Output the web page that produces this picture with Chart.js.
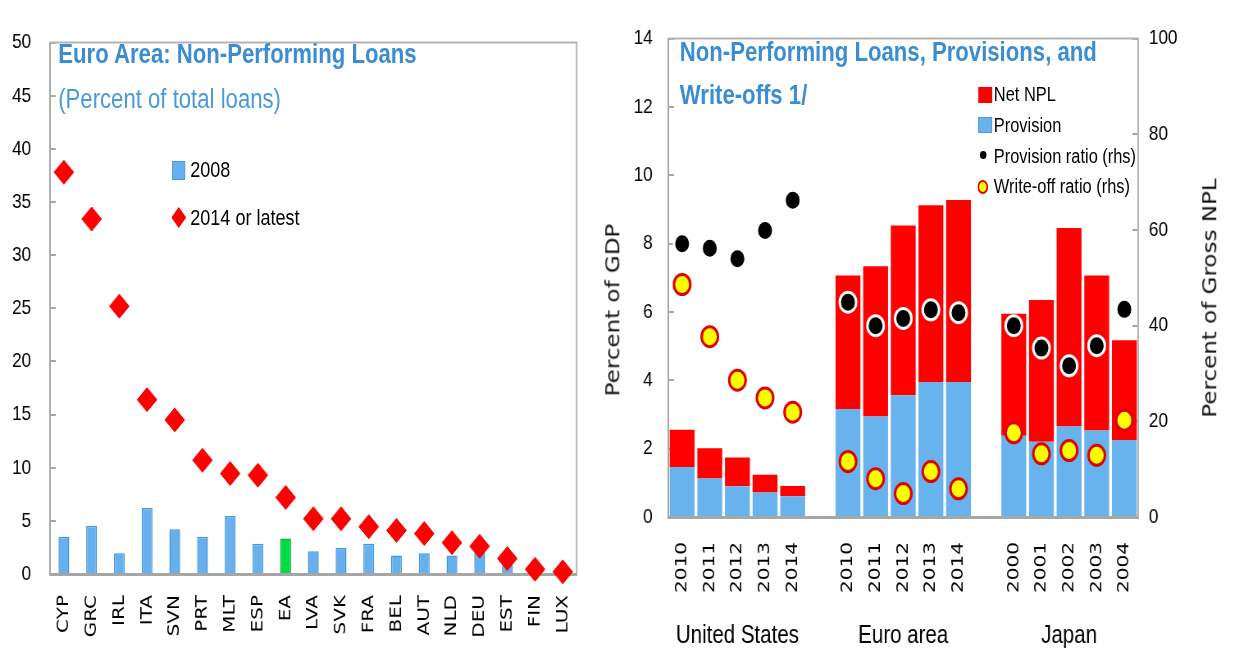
<!DOCTYPE html>
<html>
<head>
<meta charset="utf-8">
<title>Non-Performing Loans</title>
<script src="https://cdn.jsdelivr.net/npm/chart.js@4.4.1/dist/chart.umd.min.js"></script>
<style>
  html, body { margin: 0; padding: 0; background: #fff; overflow: hidden; }
  /* the source picture is squeezed sideways, so the page is laid out wider and squeezed too */
  #stage { position: absolute; left: 0; top: 0; width: 1506px; height: 657px; transform: scaleX(0.82); transform-origin: 0 0; }
  canvas { position: absolute; top: 0; }
  #c1 { left: 0; }
  #c2 { left: 732px; }
  .txt { position: absolute; white-space: nowrap; font-family: "Liberation Sans", Arial, sans-serif; line-height: 1; }
  .ttl { font-weight: bold; font-size: 27px; color: #3A8DD2; }
  .sub { font-size: 27px; color: #4A9AD8; }
  .axt { font-family: "DejaVu Sans", sans-serif; font-size: 23px; color: #111; transform: translate(-50%, -50%) rotate(-90deg); }
  .lg { font-size: 20px; color: #000; }
  .lg2 { font-size: 22px; color: #000; }
  .sw { position: absolute; }
</style>
</head>
<body>
<div id="stage">
  <canvas id="c1" width="732" height="657"></canvas>
  <canvas id="c2" width="774" height="657"></canvas>

  <div class="txt ttl" style="left:71px; top:41px;">Euro Area: Non-Performing Loans</div>
  <div class="txt sub" style="left:71px; top:86px;">(Percent of total loans)</div>

  <div class="sw" style="left:210px; top:161px; width:16px; height:19px; background:#66B0EE; box-shadow: inset 0 0 0 1px #4797DD;"></div>
  <div class="txt lg2" style="left:232px; top:159px;">2008</div>
  <div class="sw" style="left:209px; top:207px; width:18px; height:21px; background:#FF0000; clip-path: polygon(50% 0, 100% 50%, 50% 100%, 0 50%);"></div>
  <div class="txt lg2" style="left:232px; top:207px;">2014 or latest</div>

  <div class="txt ttl" style="left:829px; top:39px;">Non-Performing Loans, Provisions, and</div>
  <div class="txt ttl" style="left:829px; top:82px;">Write-offs 1/</div>

  <div class="sw" style="left:1193px; top:87px; width:17px; height:16px; background:#FF0000;"></div>
  <div class="txt lg" style="left:1212px; top:84px;">Net NPL</div>
  <div class="sw" style="left:1193px; top:117px; width:17px; height:16px; background:#68B2EE; box-shadow: inset 0 0 0 1px #4A9ADD;"></div>
  <div class="txt lg" style="left:1212px; top:115px;">Provision</div>
  <div class="sw" style="left:1195px; top:151px; width:8px; height:8px; border-radius:50%; background:#000;"></div>
  <div class="txt lg" style="left:1212px; top:146px;">Provision ratio (rhs)</div>
  <div class="sw" style="left:1192px; top:180px; width:9px; height:10px; border-radius:50%; background:#FFFF00; border:2.5px solid #E00000;"></div>
  <div class="txt lg" style="left:1212px; top:176px;">Write-off ratio (rhs)</div>

  <div class="txt axt" style="left:748px; top:310px;">Percent of GDP</div>
  <div class="txt axt" style="left:1476px; top:298px;">Percent of Gross NPL</div>
</div>

<script>
// left panel: NPL in percent of total loans
const countries = ['CYP', 'GRC', 'IRL', 'ITA', 'SVN', 'PRT', 'MLT', 'ESP', 'EA', 'LVA',
  'SVK', 'FRA', 'BEL', 'AUT', 'NLD', 'DEU', 'EST', 'FIN', 'LUX'];
const npl2008 = [3.5, 4.55, 1.95, 6.2, 4.2, 3.5, 5.45, 2.85, 3.35, 2.15,
  2.45, 2.85, 1.75, 1.95, 1.75, 2.2, 0.9, 0.4, 0.2];
const nplLatest = [37.8, 33.4, 25.2, 16.4, 14.5, 10.7, 9.45, 9.3, 7.2, 5.2,
  5.2, 4.45, 4.1, 3.8, 2.95, 2.6, 1.45, 0.45, 0.2];
const loanTicks = [0, 5, 10, 15, 20, 25, 30, 35, 40, 45, 50];

// right panel: NPL, provisions and write-offs (blank slots split the groups)
const years = ['2010', '2011', '2012', '2013', '2014', '',
  '2010', '2011', '2012', '2013', '2014', '',
  '2000', '2001', '2002', '2003', '2004'];
const groups = ['United States', 'Euro area', 'Japan'];
const provision = [1.46, 1.13, 0.9, 0.72, 0.61, null,
  3.16, 2.94, 3.56, 3.95, 3.95, null,
  2.38, 2.2, 2.65, 2.53, 2.25];
const netNpl = [1.09, 0.88, 0.84, 0.52, 0.3, null,
  3.91, 4.4, 4.97, 5.17, 5.33, null,
  3.57, 4.15, 5.81, 4.54, 2.92];
const provisionRatio = [57.1, 56.2, 54.0, 59.9, 66.2, null,
  44.9, 40.0, 41.5, 43.3, 42.7, null,
  40.0, 35.3, 31.6, 35.8, 43.4];
const writeOffRatio = [48.6, 37.7, 28.6, 24.9, 21.9, null,
  11.6, 8.0, 4.9, 9.5, 5.9, null,
  17.6, 13.2, 13.9, 12.9, 20.2];
const gdpTicks = [0, 2, 4, 6, 8, 10, 12, 14];
const grossTicks = [0, 20, 40, 60, 80, 100];

const AXIS = '#A6A6A6';
const tickFont = { family: 'Liberation Sans', size: 21 };
const catFont = { family: 'DejaVu Sans', size: 20 };

const useTicks = (values) => (scale) => { scale.ticks = values.map(v => ({ value: v })); };

// grey frame on top and right of the plot
const frame = {
  id: 'frame',
  beforeDatasetsDraw(chart) {
    const { ctx, chartArea: a } = chart;
    ctx.save();
    ctx.strokeStyle = '#B4B4B4';
    ctx.lineWidth = 2;
    ctx.beginPath();
    ctx.moveTo(a.left, a.top);
    ctx.lineTo(a.right, a.top);
    ctx.lineTo(a.right, a.bottom);
    ctx.stroke();
    ctx.restore();
  }
};

// group names under the year labels
const groupNames = {
  id: 'groupNames',
  afterDraw(chart) {
    const { ctx } = chart;
    const x = chart.scales.x;
    ctx.save();
    ctx.font = '25px "Liberation Sans"';
    ctx.fillStyle = '#000';
    ctx.textAlign = 'center';
    ctx.textBaseline = 'middle';
    groups.forEach((g, i) => ctx.fillText(g, x.getPixelForValue(i * 6 + 2), 636));
    ctx.restore();
  }
};

const yGrid = { drawOnChartArea: false, drawTicks: true, tickLength: -7, color: AXIS, lineWidth: 2 };

new Chart(document.getElementById('c1'), {
  type: 'bar',
  data: {
    labels: countries,
    datasets: [
      {
        type: 'line',
        label: '2014 or latest',
        data: nplLatest,
        showLine: false,
        pointStyle: 'rectRot',
        pointRadius: 12,
        pointBackgroundColor: '#FF0000',
        pointBorderColor: '#FF0000',
        pointBorderWidth: 1,
        clip: false,
        order: 1
      },
      {
        label: '2008',
        data: npl2008,
        backgroundColor: countries.map(c => c === 'EA' ? '#00DD44' : '#66B0EE'),
        borderColor: countries.map(c => c === 'EA' ? '#00B836' : '#4797DD'),
        borderWidth: 1.5,
        barPercentage: 0.39,
        categoryPercentage: 1,
        order: 2
      }
    ]
  },
  options: {
    responsive: false,
    animation: false,
    layout: { padding: { top: 20, right: 26, bottom: 15, left: 0 } },
    plugins: { legend: { display: false }, tooltip: { enabled: false } },
    scales: {
      x: {
        afterFit: (s) => { s.height = 68; },
        grid: { display: false, drawTicks: false },
        border: { color: AXIS, width: 3 },
        ticks: { padding: 21, minRotation: 90, maxRotation: 90, autoSkip: false, color: '#000', font: catFont }
      },
      y: {
        min: 0,
        max: 50,
        afterBuildTicks: useTicks(loanTicks),
        afterFit: (s) => { s.width = 61; },
        grid: yGrid,
        border: { color: AXIS, width: 2 },
        ticks: { padding: 30, color: '#000', font: tickFont }
      }
    }
  },
  plugins: [frame]
});

new Chart(document.getElementById('c2'), {
  type: 'bar',
  data: {
    labels: years,
    datasets: [
      {
        type: 'line',
        label: 'Write-off ratio (rhs)',
        data: writeOffRatio,
        yAxisID: 'y1',
        showLine: false,
        pointRadius: 10,
        pointBackgroundColor: '#FFFF00',
        pointBorderColor: '#E00000',
        pointBorderWidth: 3,
        clip: false,
        order: 1
      },
      {
        type: 'line',
        label: 'Provision ratio (rhs)',
        data: provisionRatio,
        yAxisID: 'y1',
        showLine: false,
        pointRadius: 10,
        pointBackgroundColor: '#000',
        pointBorderColor: '#fff',
        pointBorderWidth: 3,
        clip: false,
        order: 2
      },
      {
        label: 'Provision',
        data: provision,
        backgroundColor: '#68B2EE',
        barPercentage: 0.9,
        categoryPercentage: 1,
        order: 3
      },
      {
        label: 'Net NPL',
        data: netNpl,
        backgroundColor: '#FF0000',
        barPercentage: 0.9,
        categoryPercentage: 1,
        order: 3
      }
    ]
  },
  options: {
    responsive: false,
    animation: false,
    layout: { padding: { top: 15, right: 0, bottom: 40, left: 0 } },
    plugins: { legend: { display: false }, tooltip: { enabled: false } },
    scales: {
      x: {
        stacked: true,
        afterFit: (s) => { s.height = 100; },
        grid: { display: false, drawTicks: false },
        border: { color: AXIS, width: 3 },
        ticks: { padding: 25, minRotation: 90, maxRotation: 90, autoSkip: false, color: '#000', font: catFont }
      },
      y: {
        stacked: true,
        min: 0,
        max: 14,
        afterBuildTicks: useTicks(gdpTicks),
        afterFit: (s) => { s.width = 83; },
        grid: yGrid,
        border: { color: AXIS, width: 2 },
        ticks: { padding: 26, color: '#000', font: tickFont }
      },
      y1: {
        position: 'right',
        min: 0,
        max: 100,
        afterBuildTicks: useTicks(grossTicks),
        afterFit: (s) => { s.width = 118; },
        grid: yGrid,
        border: { color: AXIS, width: 2 },
        ticks: { padding: 20, color: '#000', font: tickFont }
      }
    }
  },
  plugins: [frame, groupNames]
});
</script>
</body>
</html>
